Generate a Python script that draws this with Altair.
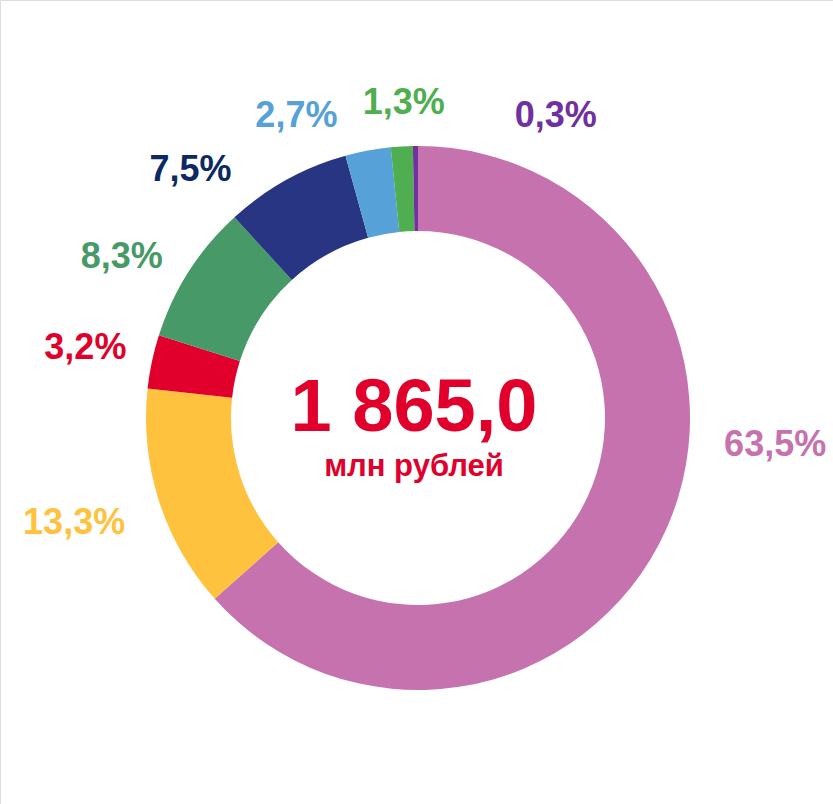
import altair as alt
import pandas as pd

labels = ["63,5%", "13,3%", "3,2%", "8,3%", "7,5%", "2,7%", "1,3%", "0,3%"]
values = [63.5, 13.3, 3.2, 8.3, 7.5, 2.7, 1.3, 0.3]
slice_colors = ["#C572AE", "#FEC23E", "#E0002B", "#479A68", "#283583", "#55A1D8", "#4FAF50", "#7030A0"]
label_colors = ["#C572AE", "#FEC23E", "#E0002B", "#479A68", "#0B2A63", "#55A1D8", "#4FAF50", "#7030A0"]
total_text = ["1 865,0"]
unit_text = ["млн рублей"]

# label nudges (pixel offsets from the slice mid-angle position)
nudges = [(47, -112), (-20, 2), (0, 0), (-10, 22), (-63, 50), (-59, 32), (6, 24), (141, 38)]

CX, CY = 418, 418
FONT = "Liberation Sans"

df = pd.DataFrame({
    "label": labels,
    "value": values,
    "order": list(range(len(values))),
    "slice_color": slice_colors,
    "label_color": label_colors,
})

arcs = alt.Chart(df).mark_arc(outerRadius=272, innerRadius=187).encode(
    theta=alt.Theta("value:Q", stack=True),
    order=alt.Order("order:Q"),
    color=alt.Color("slice_color:N", scale=None),
    x=alt.value(CX),
    y=alt.value(CY),
)

label_base = alt.Chart(df).transform_joinaggregate(
    total="sum(value)"
).transform_window(
    cum="sum(value)", sort=[alt.SortField("order")]
).transform_calculate(
    mid="(datum.cum - datum.value / 2) / datum.total * 2 * PI"
)

layers = [arcs]
for i, (dx, dy) in enumerate(nudges):
    layers.append(
        label_base.transform_filter(alt.datum.order == i).mark_text(
            radius=340, dx=dx, dy=dy, fontSize=36, fontWeight="bold",
            font=FONT, align="center", baseline="middle"
        ).encode(
            theta=alt.Theta("mid:Q", scale=None),
            text="label:N",
            color=alt.Color("label_color:N", scale=None),
            x=alt.value(CX),
            y=alt.value(CY),
        )
    )

big = alt.Chart(pd.DataFrame({"t": total_text})).mark_text(
    fontSize=74, fontWeight="bold", font=FONT, color="#E0002B",
    align="center", baseline="alphabetic"
).encode(text="t:N", x=alt.value(414), y=alt.value(431))

small = alt.Chart(pd.DataFrame({"t": unit_text})).mark_text(
    fontSize=31, fontWeight="bold", font=FONT, color="#E0002B",
    align="center", baseline="alphabetic"
).encode(text="t:N", x=alt.value(414), y=alt.value(476))

chart = alt.layer(*layers, big, small).properties(
    width=833, height=804,
    autosize=alt.AutoSizeParams(type="none"),
    padding=0,
).configure_view(stroke=None).configure(background="white")

chart.save("out.html", embed_options={"renderer": "svg", "actions": False})
